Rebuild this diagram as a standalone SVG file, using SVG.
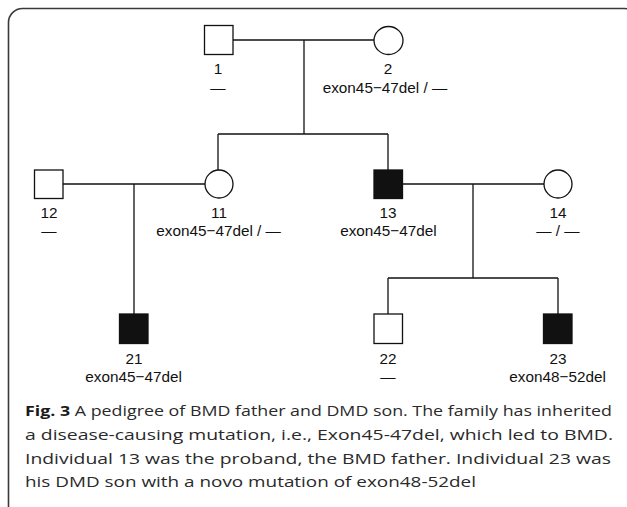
<svg xmlns="http://www.w3.org/2000/svg" width="627" height="507" viewBox="0 0 627 507">
  <style>
    .frame { fill: #fff; stroke: #3a3a3a; stroke-width: 1.6; }
    .line { fill: none; stroke: #111; stroke-width: 1.3; }
    .ind { fill: #fff; stroke: #111; stroke-width: 1.3; }
    .aff { fill: #111; stroke: #111; stroke-width: 1.3; }
    .lbl { font-family: "Liberation Sans", Arial, sans-serif; font-size: 15.3px; fill: #111; text-anchor: middle; }
    .cap { font-family: "Open Sans", "Noto Sans", sans-serif; font-size: 14px; fill: #2a2a2a; }
    .capb { font-weight: bold; fill: #1a1a1a; }
  </style>

  <rect class="frame" x="8.5" y="8.5" width="630" height="520" rx="14"/>

  <!-- connectors: marriage lines, descent lines and sibships -->
  <g id="connectors">
    <path class="line" d="M233,40 H374"/>
    <path class="line" d="M304,40 V134"/>
    <path class="line" d="M218,134 H388"/>
    <path class="line" d="M218,134 V170"/>
    <path class="line" d="M388,134 V170"/>
    <path class="line" d="M63,184 H205"/>
    <path class="line" d="M134,184 V314"/>
    <path class="line" d="M403,184 H544"/>
    <path class="line" d="M473,184 V278"/>
    <path class="line" d="M388,278 H558"/>
    <path class="line" d="M388,278 V314"/>
    <path class="line" d="M558,278 V314"/>
  </g>

  <!-- generation I -->
  <g id="ind1">
    <rect class="ind" x="204.5" y="25.5" width="28.5" height="29"/>
    <text class="lbl" x="218" y="74">1</text>
    <text class="lbl" x="218" y="93">—</text>
  </g>
  <g id="ind2">
    <ellipse class="ind" cx="388.5" cy="40.5" rx="14.5" ry="14"/>
    <text class="lbl" x="388" y="74">2</text>
    <text class="lbl" x="385" y="93">exon45−47del / —</text>
  </g>

  <!-- generation II -->
  <g id="ind12">
    <rect class="ind" x="34.5" y="170" width="28.5" height="28.5"/>
    <text class="lbl" x="49" y="217.5">12</text>
    <text class="lbl" x="49" y="236">—</text>
  </g>
  <g id="ind11">
    <ellipse class="ind" cx="219" cy="184" rx="14" ry="14"/>
    <text class="lbl" x="219" y="217.5">11</text>
    <text class="lbl" x="218.6" y="236">exon45−47del / —</text>
  </g>
  <g id="ind13">
    <rect class="aff" x="374" y="170" width="28.5" height="28.5"/>
    <text class="lbl" x="388" y="217.5">13</text>
    <text class="lbl" x="388.4" y="236">exon45−47del</text>
  </g>
  <g id="ind14">
    <ellipse class="ind" cx="558" cy="184" rx="14" ry="14"/>
    <text class="lbl" x="558" y="217.5">14</text>
    <text class="lbl" x="558" y="236">— / —</text>
  </g>

  <!-- generation III -->
  <g id="ind21">
    <rect class="aff" x="119.5" y="314" width="28.5" height="29.5"/>
    <text class="lbl" x="134" y="363.5">21</text>
    <text class="lbl" x="133.6" y="382">exon45−47del</text>
  </g>
  <g id="ind22">
    <rect class="ind" x="374" y="314" width="28.5" height="29.5"/>
    <text class="lbl" x="388" y="363.5">22</text>
    <text class="lbl" x="388" y="382">—</text>
  </g>
  <g id="ind23">
    <rect class="aff" x="543.5" y="314" width="28.5" height="29.5"/>
    <text class="lbl" x="558" y="363.5">23</text>
    <text class="lbl" x="557.6" y="382">exon48−52del</text>
  </g>

  <!-- figure caption -->
  <g id="caption">
    <text class="cap" x="25" y="416" textLength="587" lengthAdjust="spacingAndGlyphs"><tspan class="capb">Fig. 3</tspan> A pedigree of BMD father and DMD son. The family has inherited</text>
    <text class="cap" x="25" y="440" textLength="588" lengthAdjust="spacingAndGlyphs">a disease-causing mutation, i.e., Exon45-47del, which led to BMD.</text>
    <text class="cap" x="25" y="463.5" textLength="586" lengthAdjust="spacingAndGlyphs">Individual 13 was the proband, the BMD father. Individual 23 was</text>
    <text class="cap" x="25" y="487" textLength="451" lengthAdjust="spacingAndGlyphs">his DMD son with a novo mutation of exon48-52del</text>
  </g>
</svg>
